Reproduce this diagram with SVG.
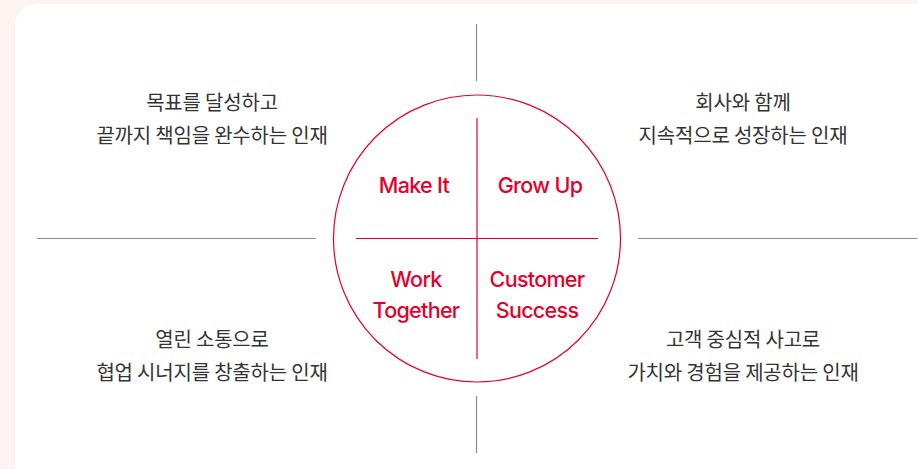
<svg xmlns="http://www.w3.org/2000/svg" width="918" height="469" viewBox="0 0 918 469">
<style>
.kr{font-family:"Noto Sans CJK KR","Noto Sans",sans-serif;font-size:20px;fill:#333;text-anchor:middle;letter-spacing:-0.2px}
.en{font-family:Inter,"Noto Sans",sans-serif;font-size:21.5px;font-weight:500;fill:#e3002d;text-anchor:middle;letter-spacing:-0.7px}
.gl{stroke:#8c8c8c;stroke-width:1.2;fill:none}
.rl{stroke:#e3002d;stroke-width:1.2;fill:none}
</style>
<rect x="0" y="0" width="918" height="469" fill="#fdf4f2"/>
<rect x="15" y="4" width="940" height="486" rx="22" fill="#ffffff"/>
<g id="connectors">
<line class="gl" x1="476.5" y1="24" x2="476.5" y2="81"/>
<line class="gl" x1="476.5" y1="396" x2="476.5" y2="453"/>
<line class="gl" x1="37" y1="238.5" x2="316" y2="238.5"/>
<line class="gl" x1="638" y1="238.5" x2="917" y2="238.5"/>
</g>
<g id="circle">
<circle class="rl" cx="477" cy="238.5" r="143.5"/>
<line class="rl" x1="356" y1="238.5" x2="598" y2="238.5"/>
<line class="rl" x1="477" y1="118" x2="477" y2="359"/>
</g>
<g id="make-it"><text class="en" x="414" y="193">Make It</text></g>
<g id="grow-up"><text class="en" x="540" y="193">Grow Up</text></g>
<g id="work-together"><text class="en" x="416" y="287">Work</text><text class="en" x="416" y="318">Together</text></g>
<g id="customer-success"><text class="en" x="537" y="287">Customer</text><text class="en" x="537" y="318">Success</text></g>
<g id="desc-tl"><text class="kr" x="212" y="110">목표를 달성하고</text><text class="kr" x="212" y="143">끝까지 책임을 완수하는 인재</text></g>
<g id="desc-tr"><text class="kr" x="743" y="110">회사와 함께</text><text class="kr" x="743" y="143">지속적으로 성장하는 인재</text></g>
<g id="desc-bl"><text class="kr" x="212" y="347">열린 소통으로</text><text class="kr" x="212" y="380">협업 시너지를 창출하는 인재</text></g>
<g id="desc-br"><text class="kr" x="743" y="347">고객 중심적 사고로</text><text class="kr" x="743" y="380">가치와 경험을 제공하는 인재</text></g>
</svg>
